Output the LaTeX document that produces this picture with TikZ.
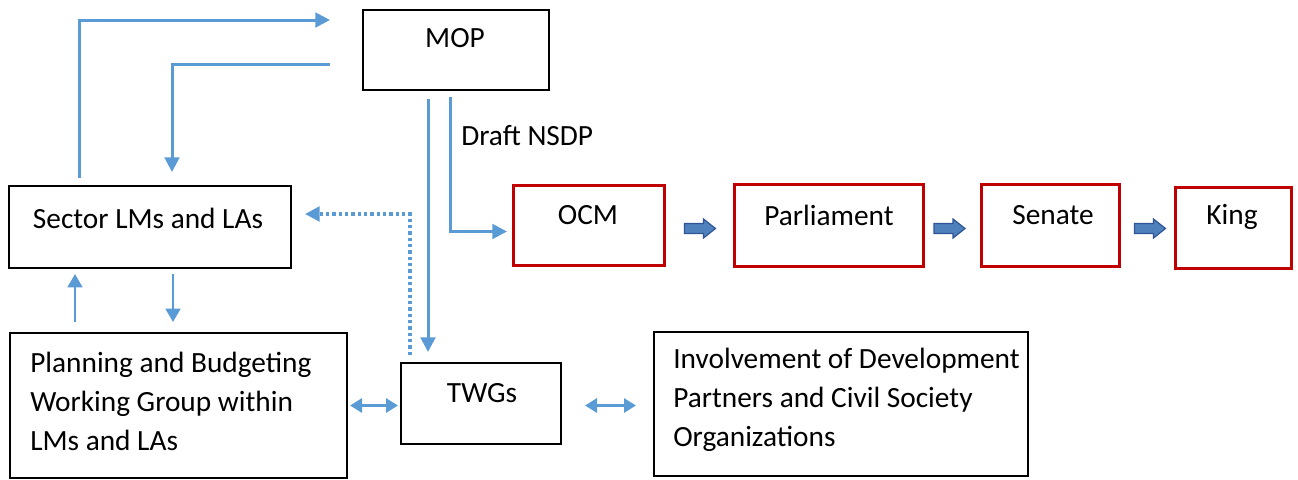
\documentclass[tikz,border=0pt]{standalone}
\usepackage{fontspec}
\setmainfont{Carlito}
\usetikzlibrary{arrows.meta,calc}
\definecolor{lblue}{HTML}{5B9BD5}
\definecolor{dred}{HTML}{C00000}
\definecolor{bfill}{HTML}{4F81BD}
\definecolor{bline}{HTML}{2F5597}
\newcommand\blockarr[1]{\draw[barrow] ($(#1)+(-15.5,-5)$) -- ++(19,0) -- ++(0,-4.5) -- ++(12,9.5) -- ++(-12,9.5) -- ++(0,-4.5) -- ++(-19,0) -- cycle;}
\begin{document}
\begin{tikzpicture}[x=0.75pt,y=-0.75pt,
  font=\fontsize{22}{29.25}\selectfont,
  size/.style 2 args={minimum width=#1*0.75pt, minimum height=#2*0.75pt},
  box/.style={draw=black, line width=1.5pt, inner sep=0pt, anchor=north west},
  rbox/.style={draw=dred, line width=2.25pt, inner sep=0pt, anchor=north west},
  lbl/.style={inner sep=0pt},
  conn/.style={draw=lblue, line width=2.25pt, -{Triangle[length=11pt,width=11pt]}},
  sconn/.style={draw=lblue, line width=2pt, -{Triangle[length=10pt,width=11pt]}},
  dconn/.style={draw=lblue, line width=2.25pt, {Triangle[length=9pt,width=10.5pt]}-{Triangle[length=9pt,width=10.5pt]}},
  dotconn/.style={draw=lblue, line width=2.5pt, dash pattern=on 2.5pt off 2.25pt, -{Triangle[length=11pt,width=11pt]}},
  barrow/.style={draw=bline, fill=bfill, line width=0.9pt, line join=miter}
]
\useasboundingbox (0,0) rectangle (1298,479);
% boxes
\node[box, size={186}{80}] (mop) at (362,9) {};
\node[box, size={282}{82}] (sector) at (8,185) {};
\node[rbox, size={151}{80}] (ocm) at (512,184) {};
\node[rbox, size={189}{82}] (parl) at (733,183) {};
\node[rbox, size={138}{82}] (senate) at (980,183) {};
\node[rbox, size={116}{81}] (king) at (1174,186) {};
\node[box, size={337}{145}] (plan) at (9,332) {};
\node[box, size={160}{81}] (twg) at (400,362) {};
\node[box, size={374}{144}] (inv) at (653,331) {};
% texts
\node[lbl] (tmop) at (455,38) {MOP};
\node[lbl] (tsector) at (148,218) {Sector LMs and LAs};
\node[lbl] (tocm) at (588,215) {OCM};
\node[lbl] (tparl) at (829,215) {Parliament};
\node[lbl] (tsenate) at (1053,215) {Senate};
\node[lbl] (tking) at (1232,217) {King};
\node[lbl] (ttwg) at (482,393) {TWGs};
\node[lbl, anchor=west, align=left] (tplan) at (30,401) {Planning and Budgeting\\Working Group within\\LMs and LAs};
\node[lbl, anchor=west, align=left] (tinv) at (673,400) {Involvement of Development\\Partners and Civil Society\\Organizations};
\node[lbl, anchor=west] (tdraft) at (461,136) {Draft NSDP};
% connectors
\draw[conn] ($(sector.north west)+(71,-7)$) |- ($(mop.north west)+(-32,11)$);
\draw[conn] ($(mop.west)+(-32,14)$) -| ($(sector.north west)+(164,-13)$);
\draw[conn] ($(mop.south west)+(66,8)$) -- ($(twg.north west)+(28,-10)$);
\draw[conn] ($(mop.south west)+(88,6)$) |- ($(ocm.west)+(-5,6)$);
\draw[dotconn] ($(twg.north west)+(10,-7)$) |- ($(sector.east)+(13,-13)$);
\draw[sconn] ($(sector.south west)+(165,5)$) -- ($(plan.north west)+(164,-10)$);
\draw[sconn] ($(plan.north west)+(66,-10)$) -- ($(sector.south west)+(67,5)$);
\coordinate (d1s) at ($(plan.east)+(2,0)$);
\draw[dconn] (d1s) -- ($(d1s -| twg.west)+(-2,0)$);
\coordinate (d2s) at ($(twg.east)+(23,2)$);
\draw[dconn] (d2s) -- ($(d2s -| inv.west)+(-17,0)$);
% block arrows
\coordinate (b1) at (700,228.5);
\coordinate (b2) at (949.5,228.5);
\coordinate (b3) at (1150,228.5);
\blockarr{b1}
\blockarr{b2}
\blockarr{b3}
\end{tikzpicture}
\end{document}
